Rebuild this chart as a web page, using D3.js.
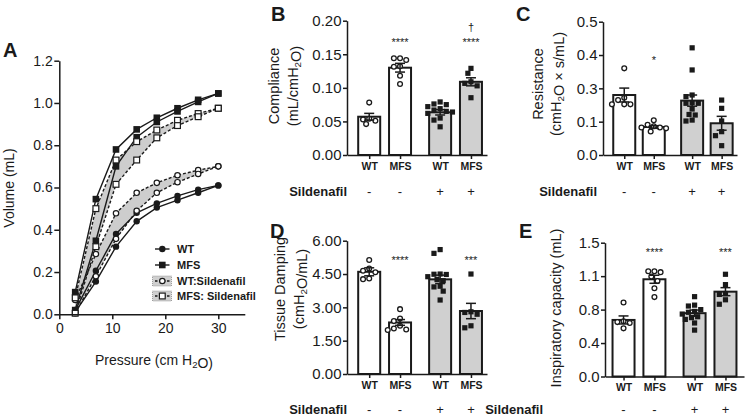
<!DOCTYPE html>
<html><head><meta charset="utf-8">
<script src="https://cdn.jsdelivr.net/npm/d3@7"></script>
<style>
body{margin:0;background:#fff;}
svg{display:block;font-family:"Liberation Sans",Arial,sans-serif;}
</style></head><body>
<svg id="chart" width="747" height="418"></svg>
<script>
// ---------- Panel A data ----------
const pressure = [3, 6.9, 10.7, 14.6, 18.4, 22.3, 26.2, 30];
const wtUpper     = [0.020, 0.206, 0.380, 0.480, 0.525, 0.560, 0.590, 0.610];
const wtLower     = [0.010, 0.155, 0.320, 0.440, 0.505, 0.540, 0.575, 0.610];
const mfsUpper    = [0.105, 0.545, 0.780, 0.875, 0.930, 0.975, 1.015, 1.045];
const mfsLower    = [0.020, 0.348, 0.700, 0.838, 0.910, 0.960, 1.005, 1.045];
const wtSilUpper  = [0.068, 0.285, 0.478, 0.575, 0.622, 0.658, 0.682, 0.700];
const wtSilLower  = [0.005, 0.180, 0.357, 0.490, 0.575, 0.625, 0.664, 0.700];
const mfsSilUpper = [0.078, 0.500, 0.730, 0.817, 0.872, 0.918, 0.950, 0.975];
const mfsSilLower = [0.005, 0.320, 0.615, 0.730, 0.835, 0.893, 0.935, 0.975];
const legendLabels = ["WT", "MFS", "WT:Sildenafil", "MFS: Sildenafil"];
const aXTicks = [0, 10, 20, 30];
const aYTicks = [0, 0.2, 0.4, 0.6, 0.8, 1.0, 1.2];

// ---------- Bar panels shared ----------
const groups = ["WT", "MFS", "WT", "MFS"];
const sildenafil = ["-", "-", "+", "+"];

// B: Compliance
const complianceMean = [0.057, 0.130, 0.0636, 0.109];
const complianceSem  = [0.005, 0.0065, 0.004, 0.006];
const compliancePts = [
  [0.078, 0.054, 0.053, 0.051, 0.046],
  [0.144, 0.144, 0.1415, 0.132, 0.1315, 0.118, 0.1057],
  [0.079, 0.076, 0.075, 0.072, 0.069, 0.067, 0.065, 0.064, 0.062, 0.055, 0.052, 0.042],
  [0.129, 0.1217, 0.109, 0.1067, 0.103, 0.0853]
];
const complianceSig = ["", "****", "", "****"];
const complianceDagger = ["", "", "", "†"];
const complianceTicks = [0, 0.05, 0.10, 0.15, 0.20];
const complianceTickLabels = ["0.00", "0.05", "0.10", "0.15", "0.20"];

// C: Resistance
const resistanceMean = [0.225, 0.105, 0.204, 0.119];
const resistanceSem  = [0.026, 0.005, 0.021, 0.026];
const resistancePts = [
  [0.325, 0.215, 0.206, 0.19, 0.19, 0.19],
  [0.13, 0.113, 0.108, 0.103, 0.103, 0.1, 0.088],
  [0.402, 0.319, 0.225, 0.219, 0.196, 0.194, 0.194, 0.1725, 0.152, 0.15, 0.131, 0.1275],
  [0.206, 0.175, 0.1275, 0.0875, 0.0725, 0.035]
];
const resistanceSig = ["", "*", "", ""];
const resistanceTicks = [0, 0.125, 0.25, 0.375, 0.5];
const resistanceTickLabels = ["0.0", "0.1", "0.3", "0.4", "0.5"];

// D: Tissue damping
const dampingMean = [4.6, 2.32, 4.26, 2.835];
const dampingSem  = [0.18, 0.13, 0.19, 0.345];
const dampingPts = [
  [5.13, 4.75, 4.65, 4.58, 4.3, 4.27],
  [2.92, 2.5, 2.38, 2.17, 2.05, 2.0, 1.98],
  [5.6, 5.43, 4.5, 4.49, 4.48, 4.38, 4.25, 4.2, 3.95, 3.92, 3.73, 3.33],
  [4.5, 2.8, 2.77, 2.69, 2.17, 2.08]
];
const dampingSig = ["", "****", "", "***"];
const dampingTicks = [0, 1.5, 3, 4.5, 6];
const dampingTickLabels = ["0.00", "1.50", "3.00", "4.50", "6.00"];

// E: Inspiratory capacity
const icMean = [0.634, 1.09, 0.71, 0.951];
const icSem  = [0.045, 0.045, 0.035, 0.045];
const icPts = [
  [0.83, 0.62, 0.61, 0.6, 0.54],
  [1.18, 1.18, 1.17, 1.12, 1.07, 0.99, 0.89],
  [0.895, 0.8, 0.79, 0.75, 0.73, 0.72, 0.7, 0.67, 0.66, 0.64, 0.6, 0.52],
  [1.146, 1.03, 0.93, 0.92, 0.86, 0.81]
];
const icSig = ["", "****", "", "***"];
const icTicks = [0, 0.375, 0.75, 1.125, 1.5];
const icTickLabels = ["0.0", "0.4", "0.8", "1.1", "1.5"];

// ---------- drawing ----------
const svg = d3.select("#chart");
const INK = "#1a1a1a";
const GRAY = "#d0d0d0";

function styleAxis(g, fs) {
  g.selectAll("path.domain").attr("stroke", INK).attr("stroke-width", 1.5);
  g.selectAll(".tick line").attr("stroke", INK).attr("stroke-width", 1.5);
  g.selectAll(".tick text").attr("fill", INK).attr("font-size", fs + "px")
    .attr("font-family", '"Liberation Sans",Arial,sans-serif');
}

// text with subscript support: parts = [[text, isSub], ...]
function richText(sel, parts, fs) {
  parts.forEach(([t, sub]) => {
    if (sub) {
      sel.append("tspan").attr("font-size", (fs * 0.68) + "px").attr("dy", fs * 0.22).text(t);
      sel.append("tspan").attr("dy", -fs * 0.22).text("");
    } else {
      sel.append("tspan").text(t);
    }
  });
}

function panelLabel(t, x, y) {
  svg.append("text").attr("x", x).attr("y", y).attr("font-size", "20px")
    .attr("font-weight", "bold").attr("fill", INK).text(t);
}

// ----- Panel A -----
(function () {
  const x = d3.scaleLinear().domain([0, 35]).range([59.3, 244.8]);
  const y = d3.scaleLinear().domain([0, 1.2]).range([314.3, 60.7]);
  const g = svg.append("g");
  const pts = (arr) => arr.map((v, i) => [pressure[i], v]);

  const area = d3.area().x((d, i) => x(pressure[i])).y0(d => y(d[0])).y1(d => y(d[1]));
  [[wtSilLower, wtSilUpper], [mfsSilLower, mfsSilUpper]].forEach(([lo, hi]) => {
    g.append("path").datum(lo.map((v, i) => [v, hi[i]])).attr("d", area)
      .attr("fill", "#cdcdcd").attr("stroke", "none");
  });

  const line = d3.line().x(d => x(d[0])).y(d => y(d[1]));
  const series = [
    {u: wtUpper, l: wtLower, dash: null, mark: "fc"},
    {u: mfsUpper, l: mfsLower, dash: null, mark: "fs"},
    {u: wtSilUpper, l: wtSilLower, dash: "3,2", mark: "oc"},
    {u: mfsSilUpper, l: mfsSilLower, dash: "3,2", mark: "os"}
  ];
  series.forEach(s => {
    [s.u, s.l].forEach(arr => {
      g.append("path").datum(pts(arr)).attr("d", line).attr("fill", "none")
        .attr("stroke", INK).attr("stroke-width", 1.4)
        .attr("stroke-dasharray", s.dash);
    });
  });
  function marker(sel, type, cx, cy) {
    if (type === "fc") sel.append("circle").attr("cx", cx).attr("cy", cy).attr("r", 3.2).attr("fill", INK);
    if (type === "oc") sel.append("circle").attr("cx", cx).attr("cy", cy).attr("r", 2.7).attr("fill", "#fff").attr("stroke", INK).attr("stroke-width", 1.2);
    if (type === "fs") sel.append("rect").attr("x", cx - 3.3).attr("y", cy - 3.3).attr("width", 6.6).attr("height", 6.6).attr("fill", INK);
    if (type === "os") sel.append("rect").attr("x", cx - 2.9).attr("y", cy - 2.9).attr("width", 5.8).attr("height", 5.8).attr("fill", "#fff").attr("stroke", INK).attr("stroke-width", 1.2);
  }
  series.forEach(s => {
    [s.u, s.l].forEach(arr => arr.forEach((v, i) => marker(g, s.mark, x(pressure[i]), y(v))));
  });

  const xa = g.append("g").attr("transform", `translate(0,${y(0)})`)
    .call(d3.axisBottom(x).tickValues(aXTicks).tickSize(5).tickSizeOuter(0).tickPadding(4));
  styleAxis(xa, 14);
  const ya = g.append("g").attr("transform", `translate(${x(0)},0)`)
    .call(d3.axisLeft(y).tickValues(aYTicks).tickFormat(d3.format(".1f")).tickSize(5).tickSizeOuter(0).tickPadding(1.5));
  styleAxis(ya, 14);

  const xt = g.append("text").attr("x", 154).attr("y", 365).attr("text-anchor", "middle")
    .attr("font-size", "14px").attr("fill", INK);
  richText(xt, [["Pressure (cm H", false], ["2", true], ["O)", false]], 14);
  g.append("text").attr("transform", "translate(14,188) rotate(-90)").attr("text-anchor", "middle")
    .attr("font-size", "14px").attr("fill", INK).text("Volume (mL)");

  // legend
  const ly = [249, 265, 281, 296];
  const lm = ["fc", "fs", "oc", "os"];
  legendLabels.forEach((lab, i) => {
    const lg = g.append("g");
    if (i >= 2) {
      lg.append("rect").attr("x", 152.5).attr("y", ly[i] - 5).attr("width", 19).attr("height", 10)
        .attr("fill", "#cfcfcf").attr("stroke", "#8a8a8a").attr("stroke-width", 0.8).attr("stroke-dasharray", "1,1");
    }
    lg.append("line").attr("x1", 155).attr("x2", 169.5).attr("y1", ly[i]).attr("y2", ly[i])
      .attr("stroke", INK).attr("stroke-width", 1.4).attr("stroke-dasharray", i >= 2 ? "2.5,1.5" : null);
    marker(lg, lm[i], 162.3, ly[i]);
    lg.append("text").attr("x", 177).attr("y", ly[i] + 4).attr("font-size", "11px")
      .attr("font-weight", "bold").attr("fill", INK).text(lab);
  });
})();

// ----- Bar panels -----
function swarm(values, y, d) {
  const placed = [];
  const items = values.map(v => ({v, py: y(v), dx: 0})).sort((a, b) => a.py - b.py);
  const step = d * 0.55;
  items.forEach(p => {
    const offs = [0];
    for (let k = 1; k < 12; k++) offs.push(-k * step, k * step);
    for (const o of offs) {
      if (placed.every(q => Math.hypot(q.dx - o, q.py - p.py) >= d)) { p.dx = o; break; }
    }
    placed.push(p);
  });
  return placed;
}

function barPanel(cfg) {
  const g = svg.append("g");
  const slot = [0, 1, 2.3, 3.3];
  const x = d3.scaleLinear().domain(cfg.xDomain).range([cfg.left, cfg.right]);
  const y = d3.scaleLinear().domain([0, cfg.ymax]).range([cfg.bottom, cfg.top]);
  const bw = 22;

  g.selectAll("rect.bar").data(cfg.mean).join("rect").attr("class", "bar")
    .attr("x", (d, i) => x(slot[i]) - bw / 2).attr("y", d => y(d))
    .attr("width", bw).attr("height", d => y(0) - y(d))
    .attr("fill", (d, i) => i < 2 ? "#fff" : GRAY)
    .attr("stroke", INK).attr("stroke-width", 2);

  cfg.pts.forEach((vals, i) => {
    const cx = x(slot[i]);
    swarm(vals, y, 5.6).forEach(p => {
      if (i < 2) {
        g.append("circle").attr("cx", cx + p.dx).attr("cy", p.py).attr("r", 2.4)
          .attr("fill", "#fff").attr("stroke", INK).attr("stroke-width", 1.3);
      } else {
        g.append("rect").attr("x", cx + p.dx - 2.6).attr("y", p.py - 2.6)
          .attr("width", 5.2).attr("height", 5.2).attr("fill", INK);
      }
    });
  });

  cfg.mean.forEach((m, i) => {
    const cx = x(slot[i]), s = cfg.sem[i];
    g.append("line").attr("x1", cx).attr("x2", cx).attr("y1", y(m - s)).attr("y2", y(m + s))
      .attr("stroke", INK).attr("stroke-width", 1.5);
    [m - s, m + s].forEach(v => g.append("line").attr("x1", cx - 5).attr("x2", cx + 5)
      .attr("y1", y(v)).attr("y2", y(v)).attr("stroke", INK).attr("stroke-width", 1.5));
  });

  const ya = g.append("g").attr("transform", `translate(${cfg.left},0)`)
    .call(d3.axisLeft(y).tickValues(cfg.ticks).tickFormat((d, i) => cfg.tickLabels[i])
      .tickSize(4).tickSizeOuter(0).tickPadding(1.5));
  styleAxis(ya, 15);
  const xa = g.append("g").attr("transform", `translate(0,${y(0)})`)
    .call(d3.axisBottom(x).tickValues(slot).tickFormat((d, i) => groups[i])
      .tickSize(4).tickSizeOuter(0).tickPadding(3.5));
  styleAxis(xa, 10.5);
  xa.selectAll(".tick text").attr("font-weight", "bold");

  // Sildenafil row
  const rowY = Math.min(y(0) + 40.5, 413.5);
  g.append("text").attr("x", cfg.silEnd).attr("y", rowY).attr("text-anchor", "end")
    .attr("font-size", "13px").attr("font-weight", "bold").attr("fill", INK).text("Sildenafil");
  sildenafil.forEach((s, i) => g.append("text").attr("x", x(slot[i])).attr("y", rowY)
    .attr("text-anchor", "middle").attr("font-size", "13px").attr("fill", INK).text(s));

  // significance
  cfg.sig.forEach((s, i) => {
    if (s) g.append("text").attr("x", x(slot[i])).attr("y", cfg.sigY).attr("text-anchor", "middle")
      .attr("font-size", "11px").attr("fill", INK).text(s);
  });
  if (cfg.dagger) cfg.dagger.forEach((s, i) => {
    if (s) g.append("text").attr("x", x(slot[i])).attr("y", cfg.sigY - 15).attr("text-anchor", "middle")
      .attr("font-size", "11px").attr("fill", INK).text(s);
  });

  // y title
  cfg.title.forEach((parts, k) => {
    const t = g.append("text").attr("transform", `translate(${cfg.titleX[k]},${cfg.titleY}) rotate(-90)`)
      .attr("text-anchor", "middle").attr("font-size", "14.5px").attr("fill", INK);
    richText(t, parts, 14.5);
  });
}

barPanel({
  left: 347, right: 487, top: 20.7, bottom: 155, ymax: 0.2, xDomain: [-0.72, 3.82],
  mean: complianceMean, sem: complianceSem, pts: compliancePts,
  ticks: complianceTicks, tickLabels: complianceTickLabels,
  sig: complianceSig, dagger: complianceDagger, sigY: 46, silEnd: 347,
  title: [[["Compliance", false]], [["(mL/cmH", false], ["2", true], ["O)", false]]],
  titleX: [279, 298], titleY: 86
});
barPanel({
  left: 603, right: 737, top: 21.7, bottom: 155, ymax: 0.5, xDomain: [-0.72, 3.82],
  mean: resistanceMean, sem: resistanceSem, pts: resistancePts,
  ticks: resistanceTicks, tickLabels: resistanceTickLabels,
  sig: resistanceSig, sigY: 64, silEnd: 597,
  title: [[["Resistance", false]], [["(cmH", false], ["2", true], ["O × s/mL)", false]]],
  titleX: [543, 561], titleY: 84
});
barPanel({
  left: 347, right: 487, top: 240.7, bottom: 374, ymax: 6, xDomain: [-0.72, 3.82],
  mean: dampingMean, sem: dampingSem, pts: dampingPts,
  ticks: dampingTicks, tickLabels: dampingTickLabels,
  sig: dampingSig, sigY: 264, silEnd: 347,
  title: [[["Tissue Damping", false]], [["(cmH", false], ["2", true], ["O/mL)", false]]],
  titleX: [285, 304], titleY: 289
});
barPanel({
  left: 605, right: 744, top: 242.7, bottom: 376.5, ymax: 1.5, xDomain: [-0.6, 3.9],
  mean: icMean, sem: icSem, pts: icPts,
  ticks: icTicks, tickLabels: icTickLabels,
  sig: icSig, sigY: 256, silEnd: 543,
  title: [[["Inspiratory capacity (mL)", false]]],
  titleX: [561], titleY: 308
});

panelLabel("A", 3, 57);
panelLabel("B", 271, 21);
panelLabel("C", 516, 21);
panelLabel("D", 270, 238);
panelLabel("E", 519, 238);
</script>
</body></html>
